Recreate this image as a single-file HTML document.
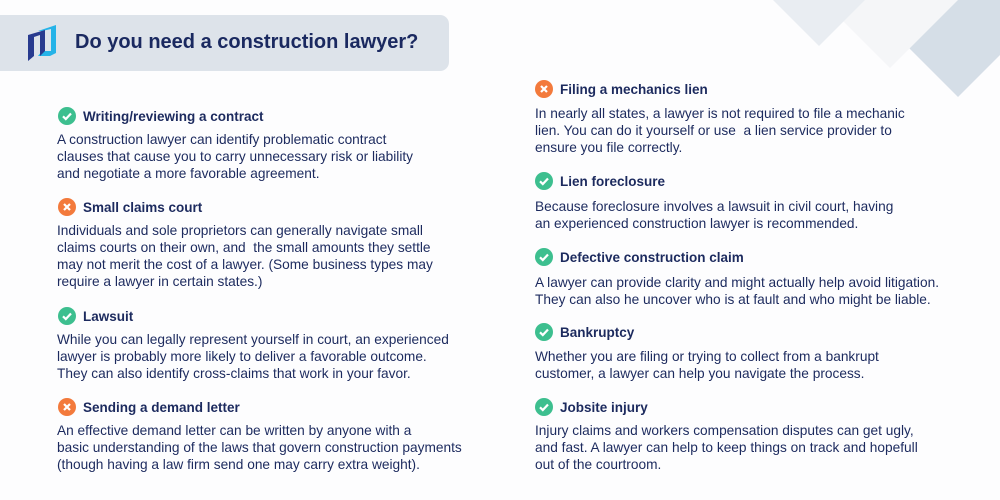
<!DOCTYPE html>
<html><head><meta charset="utf-8"><style>
body{margin:0;width:1000px;height:500px;background:#fdfdfe;position:relative;overflow:hidden;font-family:"Liberation Sans",sans-serif;color:#1c2a5e}
.hdr{position:absolute;left:-10px;top:15px;width:459px;height:56px;background:#dde3ea;border-radius:9px}
.h1{position:absolute;left:75px;top:31px;font-size:20px;font-weight:bold;color:#1a2960}
.t{position:absolute;font-size:13.5px;font-weight:bold;white-space:nowrap;line-height:17px}
.b{position:absolute;font-size:13.7px;line-height:17px;white-space:nowrap}
.ic{position:absolute;width:18px;height:18px;border-radius:50%}
.g{background:#3dbf8f}.o{background:#f37a3c}
.ic svg{position:absolute;left:0;top:0}
</style></head><body>
<svg width="1000" height="500" style="position:absolute;left:0;top:0">
<polygon points="861,0 1000,0 1000,55 958,97" fill="#d5dee7"/>
<polygon points="822,0 958,0 890,68" fill="#f5f6f8"/>
<polygon points="773,0 865,0 819,46" fill="#e9edf2"/>
<polygon points="38,31 56,25 56,53 50,56 38,56 42,51 51,51 51,29 42,31" fill="#25b3e8"/>
<polygon points="28,35 45,30 45,51 40,56 40,35 34,37 34,56 28,61" fill="#283b8f"/>
</svg>
<div class="hdr" style="z-index:-1"></div>
<div class="h1">Do you need a construction lawyer?</div>

<div class="ic g" style="left:58px;top:107px"><svg width="18" height="18"><path d="M5 9.3l2.8 2.7 5.2-5.5" stroke="#fff" stroke-width="2.2" fill="none"/></svg></div>
<div class="t" style="left:83px;top:108px">Writing/reviewing a contract</div>
<div class="b" style="left:57px;top:131px">A construction lawyer can identify problematic contract<br>clauses that cause you to carry unnecessary risk or liability<br>and negotiate a more favorable agreement.</div>

<div class="ic o" style="left:58px;top:198px"><svg width="18" height="18"><path d="M6 6l6 6M12 6l-6 6" stroke="#fff" stroke-width="2.2"/></svg></div>
<div class="t" style="left:83px;top:199px">Small claims court</div>
<div class="b" style="left:57px;top:222px">Individuals and sole proprietors can generally navigate small<br>claims courts on their own, and&nbsp; the small amounts they settle<br>may not merit the cost of a lawyer. (Some business types may<br>require a lawyer in certain states.)</div>

<div class="ic g" style="left:58px;top:307px"><svg width="18" height="18"><path d="M5 9.3l2.8 2.7 5.2-5.5" stroke="#fff" stroke-width="2.2" fill="none"/></svg></div>
<div class="t" style="left:83px;top:308px">Lawsuit</div>
<div class="b" style="left:57px;top:331px">While you can legally represent yourself in court, an experienced<br>lawyer is probably more likely to deliver a favorable outcome.<br>They can also identify cross-claims that work in your favor.</div>

<div class="ic o" style="left:58px;top:398px"><svg width="18" height="18"><path d="M6 6l6 6M12 6l-6 6" stroke="#fff" stroke-width="2.2"/></svg></div>
<div class="t" style="left:83px;top:399px">Sending a demand letter</div>
<div class="b" style="left:57px;top:422px">An effective demand letter can be written by anyone with a<br>basic understanding of the laws that govern construction payments<br>(though having a law firm send one may carry extra weight).</div>

<div class="ic o" style="left:535px;top:80px"><svg width="18" height="18"><path d="M6 6l6 6M12 6l-6 6" stroke="#fff" stroke-width="2.2"/></svg></div>
<div class="t" style="left:560px;top:81px">Filing a mechanics lien</div>
<div class="b" style="left:535px;top:105px">In nearly all states, a lawyer is not required to file a mechanic<br>lien. You can do it yourself or use&nbsp; a lien service provider to<br>ensure you file correctly.</div>

<div class="ic g" style="left:535px;top:172px"><svg width="18" height="18"><path d="M5 9.3l2.8 2.7 5.2-5.5" stroke="#fff" stroke-width="2.2" fill="none"/></svg></div>
<div class="t" style="left:560px;top:173px">Lien foreclosure</div>
<div class="b" style="left:535px;top:198px">Because foreclosure involves a lawsuit in civil court, having<br>an experienced construction lawyer is recommended.</div>

<div class="ic g" style="left:535px;top:248px"><svg width="18" height="18"><path d="M5 9.3l2.8 2.7 5.2-5.5" stroke="#fff" stroke-width="2.2" fill="none"/></svg></div>
<div class="t" style="left:560px;top:249px">Defective construction claim</div>
<div class="b" style="left:535px;top:274px">A lawyer can provide clarity and might actually help avoid litigation.<br>They can also he uncover who is at fault and who might be liable.</div>

<div class="ic g" style="left:535px;top:323px"><svg width="18" height="18"><path d="M5 9.3l2.8 2.7 5.2-5.5" stroke="#fff" stroke-width="2.2" fill="none"/></svg></div>
<div class="t" style="left:560px;top:324px">Bankruptcy</div>
<div class="b" style="left:535px;top:348px">Whether you are filing or trying to collect from a bankrupt<br>customer, a lawyer can help you navigate the process.</div>

<div class="ic g" style="left:535px;top:398px"><svg width="18" height="18"><path d="M5 9.3l2.8 2.7 5.2-5.5" stroke="#fff" stroke-width="2.2" fill="none"/></svg></div>
<div class="t" style="left:560px;top:399px">Jobsite injury</div>
<div class="b" style="left:535px;top:422px">Injury claims and workers compensation disputes can get ugly,<br>and fast. A lawyer can help to keep things on track and hopefull<br>out of the courtroom.</div>
</body></html>
